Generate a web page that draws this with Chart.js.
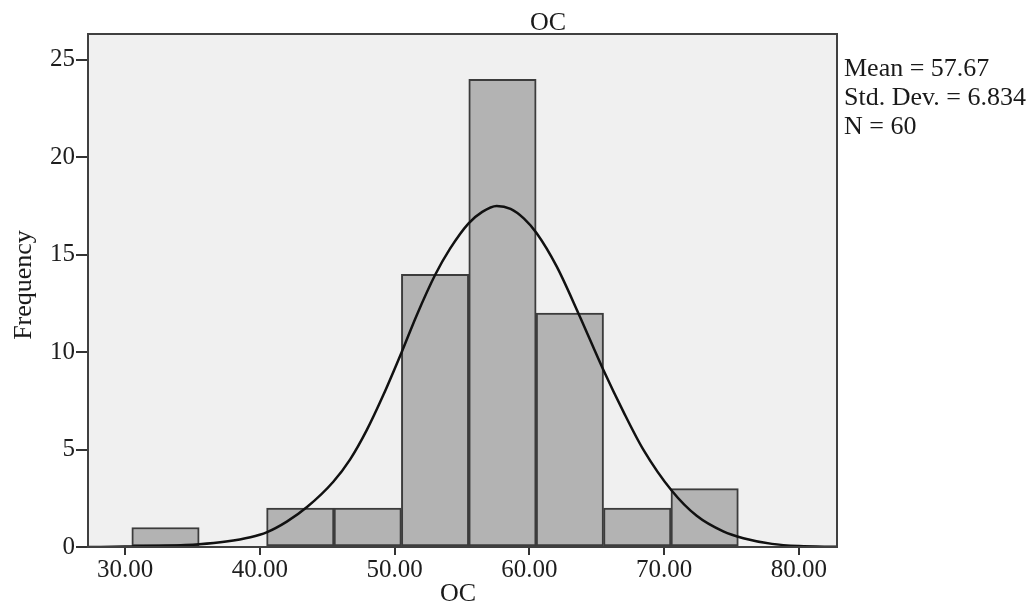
<!DOCTYPE html>
<html lang="en">
<head>
  <meta charset="UTF-8">
  <title>OC Histogram</title>
  <script src="https://cdn.jsdelivr.net/npm/chart.js"></script>
  <style>
    body { margin: 0; background: #fff; }
  </style>
</head>
<body>
  <canvas id="ocChart" width="1035" height="605"></canvas>

  <script>
    // histogram bins (centres, width 5) and counts
    const binCenters = [33, 38, 43, 48, 53, 58, 63, 68, 73];
    const frequencies = [1, 0, 2, 2, 14, 24, 12, 2, 3];

    // normal curve, points
    const curveX = [27.3, 30, 33, 35.5, 37.5, 39.3, 40.5, 42, 43.5, 45.45, 46.7, 47.93, 49.16, 50.52, 51.64, 53.0, 54.1,
                    55.47, 56.5, 57.57, 58.6, 59.6, 60.54, 62.02, 63.63, 65.48, 66.97, 68.45, 70.55, 72.41, 74.38, 75.87,
                    78, 80, 82.8];
    const curveY = [0.0, 0.02, 0.06, 0.14, 0.28, 0.5, 0.75, 1.3, 2.05, 3.35, 4.5, 6.0, 7.8, 10.0, 11.9, 13.96, 15.3,
                    16.6, 17.2, 17.5, 17.35, 16.85, 16.1, 14.4, 12.0, 9.1, 6.95, 5.0, 2.9, 1.6, 0.8, 0.45,
                    0.16, 0.05, 0.01];

    const xTicks = [30, 40, 50, 60, 70, 80];
    const yTicks = [0, 5, 10, 15, 20, 25];

    const statLines = ['Mean = 57.67', 'Std. Dev. = 6.834', 'N = 60'];

    const serif = "'Liberation Serif', 'DejaVu Serif', serif";
    const ink = '#1e1e1e';

    // grey plot background + frame + texts
    const decor = {
      id: 'decor',
      beforeDatasetsDraw(chart) {
        const { ctx, chartArea: a } = chart;
        ctx.save();
        ctx.fillStyle = '#f0f0f0';
        ctx.fillRect(a.left, a.top, a.right - a.left, a.bottom - a.top);
        ctx.restore();
      },
      afterDraw(chart) {
        const { ctx, chartArea: a } = chart;
        ctx.save();
        ctx.strokeStyle = '#404040';
        ctx.lineWidth = 2;
        ctx.strokeRect(a.left, a.top, a.right - a.left, a.bottom - a.top);

        ctx.fillStyle = '#1a1a1a';
        ctx.font = '26px ' + serif;
        ctx.textAlign = 'center';
        ctx.textBaseline = 'alphabetic';
        ctx.fillText('OC', 548, 30);
        ctx.fillText('OC', 458, 601);

        ctx.textAlign = 'left';
        statLines.forEach((t, i) => ctx.fillText(t, 844, 76 + i * 29));

        ctx.translate(31, 285);
        ctx.rotate(-Math.PI / 2);
        ctx.textAlign = 'center';
        ctx.fillText('Frequency', 0, 0);
        ctx.restore();
      }
    };

    const ctx = document.getElementById('ocChart').getContext('2d');
    new Chart(ctx, {
      data: {
        datasets: [
          {
            type: 'line',
            data: curveX.map((x, i) => ({ x: x, y: curveY[i] })),
            borderColor: '#111',
            borderWidth: 2.5,
            pointRadius: 0,
            cubicInterpolationMode: 'monotone',
            fill: false,
            order: 0
          },
          {
            type: 'bar',
            data: binCenters.map((x, i) => ({ x: x, y: frequencies[i] })),
            backgroundColor: '#b3b3b3',
            borderColor: '#3c3c3c',
            borderWidth: 2,
            borderSkipped: false,
            barPercentage: 1,
            categoryPercentage: 1,
            order: 1
          }
        ]
      },
      options: {
        responsive: false,
        animation: false,
        layout: { padding: { left: 0, top: 34, right: 198, bottom: 0 } },
        plugins: { legend: { display: false }, tooltip: { enabled: false } },
        scales: {
          x: {
            type: 'linear',
            offset: false,
            min: 27.25,
            max: 82.82,
            afterFit: s => { s.height = 58; },
            afterBuildTicks: s => { s.ticks = xTicks.map(v => ({ value: v })); },
            grid: { offset: false, drawOnChartArea: false, drawTicks: true, tickLength: 8, color: '#333', lineWidth: 2 },
            border: { display: false },
            ticks: {
              maxRotation: 0,
              padding: 0,
              color: ink,
              font: { family: serif, size: 25 },
              callback: v => Number(v).toFixed(2)
            }
          },
          y: {
            min: 0,
            max: 26.33,
            afterFit: s => { s.width = 88; },
            afterBuildTicks: s => { s.ticks = yTicks.map(v => ({ value: v })); },
            grid: { drawOnChartArea: false, drawTicks: true, tickLength: 12, color: '#333', lineWidth: 2 },
            border: { display: false },
            ticks: {
              padding: 1,
              color: ink,
              font: { family: serif, size: 25 }
            }
          }
        }
      },
      plugins: [decor]
    });
  </script>
</body>
</html>
